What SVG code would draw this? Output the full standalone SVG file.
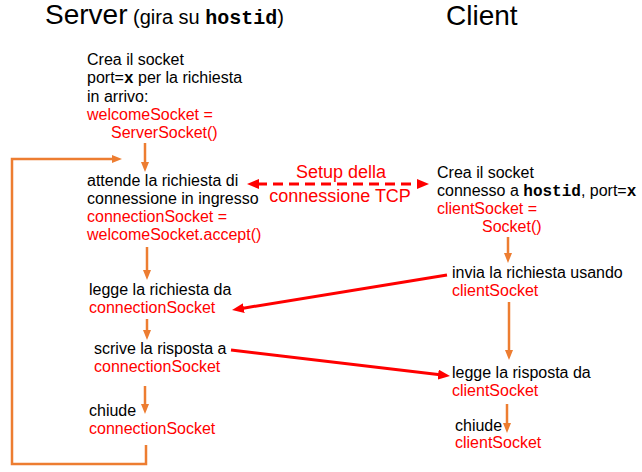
<svg xmlns="http://www.w3.org/2000/svg" width="642" height="472" viewBox="0 0 642 472">
<style>
  text { font-family: "Liberation Sans", Arial, sans-serif; font-size: 16px; fill: #000; }
  .r { fill: #FF0000; }
  .mono { font-family: "Liberation Mono", "Courier New", monospace; font-weight: bold; }
  .title { font-size: 28px; }
  .sub { font-size: 20px; }
  .lbl { font-size: 18px; fill: #FF0000; text-anchor: middle; }
  .oa { stroke: #ED7D31; stroke-width: 2.5; fill: none; marker-end: url(#oh); }
  .ra { stroke: #FF0000; stroke-width: 3; fill: none; marker-end: url(#rh); }
</style>
<defs>
  <marker id="oh" markerUnits="userSpaceOnUse" markerWidth="10" markerHeight="8" refX="2" refY="4" orient="auto">
    <path d="M0,0 L10,4 L0,8 z" fill="#ED7D31"/>
  </marker>
  <marker id="rh" markerUnits="userSpaceOnUse" markerWidth="12" markerHeight="10" refX="2" refY="5" orient="auto-start-reverse">
    <path d="M0,0 L12,5 L0,10 z" fill="#FF0000"/>
  </marker>
</defs>
<rect width="642" height="472" fill="#fff"/>

<g id="titles">
  <text x="45" y="24" class="title">Server<tspan class="sub"> (gira su </tspan><tspan class="sub mono">hostid</tspan><tspan class="sub">)</tspan></text>
  <text x="446" y="25" class="title">Client</text>
</g>

<g id="s-create">
  <text x="87" y="65">Crea il socket</text>
  <text x="87" y="83">port=<tspan class="mono">x</tspan> per la richiesta</text>
  <text x="87" y="102">in arrivo:</text>
  <text x="87" y="120" class="r">welcomeSocket =</text>
  <text x="111" y="138" class="r">ServerSocket()</text>
</g>

<g id="s-accept">
  <text x="87" y="186">attende la richiesta di</text>
  <text x="87" y="204">connessione in ingresso</text>
  <text x="87" y="222" class="r">connectionSocket =</text>
  <text x="87" y="240" class="r">welcomeSocket.accept()</text>
</g>

<g id="s-read">
  <text x="89" y="295">legge la richiesta da</text>
  <text x="89" y="313" class="r">connectionSocket</text>
</g>

<g id="s-write">
  <text x="94" y="354">scrive la risposta a</text>
  <text x="94" y="372" class="r">connectionSocket</text>
</g>

<g id="s-close">
  <text x="89" y="416">chiude</text>
  <text x="89" y="434" class="r">connectionSocket</text>
</g>

<g id="c-create">
  <text x="437" y="178">Crea il socket</text>
  <text x="437" y="196">connesso a <tspan class="mono">hostid</tspan>, port=<tspan class="mono">x</tspan></text>
  <text x="437" y="214" class="r">clientSocket =</text>
  <text x="482" y="232" class="r">Socket()</text>
</g>

<g id="c-send">
  <text x="452" y="278">invia la richiesta usando</text>
  <text x="452" y="296" class="r">clientSocket</text>
</g>

<g id="c-read">
  <text x="452" y="378">legge la risposta da</text>
  <text x="452" y="396" class="r">clientSocket</text>
</g>

<g id="c-close">
  <text x="455" y="431">chiude</text>
  <text x="455" y="448" class="r">clientSocket</text>
</g>

<g id="connectors">
  <line class="oa" x1="145" y1="143" x2="145" y2="164"/>
  <path class="oa" d="M146,445 V464 H12 V159 H114"/>
  <line class="oa" x1="147" y1="247" x2="147" y2="272"/>
  <line class="oa" x1="147" y1="319" x2="147" y2="332"/>
  <line class="oa" x1="145" y1="386" x2="145" y2="406"/>
  <line class="oa" x1="508" y1="237" x2="508" y2="255"/>
  <line class="oa" x1="509" y1="302" x2="509" y2="352"/>
  <line class="oa" x1="507" y1="404" x2="507" y2="425"/>
  <line stroke="#FF0000" stroke-width="3" stroke-dasharray="10 6" x1="257" y1="184" x2="419" y2="184" marker-start="url(#rh)" marker-end="url(#rh)"/>
  <line class="ra" x1="447" y1="275" x2="241.9" y2="308.4"/>
  <line class="ra" x1="231" y1="350" x2="440.1" y2="374.8"/>
</g>

<g id="setup-label">
  <text x="341" y="178" class="lbl">Setup della</text>
  <text x="340" y="202" class="lbl">connessione TCP</text>
</g>
</svg>
